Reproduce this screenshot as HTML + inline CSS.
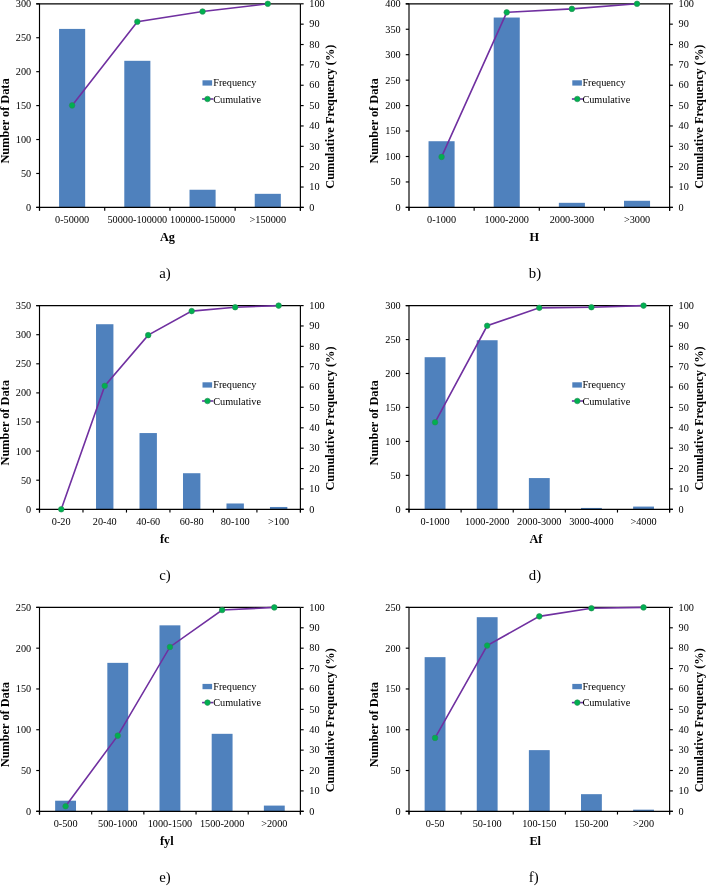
<!DOCTYPE html>
<html><head><meta charset="utf-8"><title>Figure</title>
<style>html,body{margin:0;padding:0;background:#fff;}svg{display:block;font-family:"Liberation Serif", serif;}</style>
</head><body>
<svg width="706" height="886" viewBox="0 0 706 886" font-family='"Liberation Serif", serif' fill="#000">
<rect width="706" height="886" fill="#fff"/>
<rect x="59.07" y="28.91" width="26.09" height="178.49" fill="#4F81BD"/>
<rect x="124.29" y="60.81" width="26.09" height="146.59" fill="#4F81BD"/>
<rect x="189.52" y="189.75" width="26.09" height="17.65" fill="#4F81BD"/>
<rect x="254.74" y="193.83" width="26.09" height="13.57" fill="#4F81BD"/>
<line x1="36.25" y1="3.80" x2="300.40" y2="3.80" stroke="#000" stroke-width="1.15"/>
<line x1="39.50" y1="3.80" x2="39.50" y2="210.65" stroke="#000" stroke-width="1.15"/>
<line x1="300.40" y1="3.80" x2="300.40" y2="210.65" stroke="#000" stroke-width="1.15"/>
<line x1="36.25" y1="207.40" x2="303.65" y2="207.40" stroke="#000" stroke-width="1.15"/>
<line x1="36.25" y1="207.40" x2="39.50" y2="207.40" stroke="#000" stroke-width="1.15"/>
<text x="31.20" y="210.80" font-size="10.25" text-anchor="end">0</text>
<line x1="36.25" y1="173.47" x2="39.50" y2="173.47" stroke="#000" stroke-width="1.15"/>
<text x="31.20" y="176.87" font-size="10.25" text-anchor="end">50</text>
<line x1="36.25" y1="139.53" x2="39.50" y2="139.53" stroke="#000" stroke-width="1.15"/>
<text x="31.20" y="142.93" font-size="10.25" text-anchor="end">100</text>
<line x1="36.25" y1="105.60" x2="39.50" y2="105.60" stroke="#000" stroke-width="1.15"/>
<text x="31.20" y="109.00" font-size="10.25" text-anchor="end">150</text>
<line x1="36.25" y1="71.67" x2="39.50" y2="71.67" stroke="#000" stroke-width="1.15"/>
<text x="31.20" y="75.07" font-size="10.25" text-anchor="end">200</text>
<line x1="36.25" y1="37.73" x2="39.50" y2="37.73" stroke="#000" stroke-width="1.15"/>
<text x="31.20" y="41.13" font-size="10.25" text-anchor="end">250</text>
<line x1="36.25" y1="3.80" x2="39.50" y2="3.80" stroke="#000" stroke-width="1.15"/>
<text x="31.20" y="7.20" font-size="10.25" text-anchor="end">300</text>
<line x1="300.40" y1="207.40" x2="303.65" y2="207.40" stroke="#000" stroke-width="1.15"/>
<text x="309.30" y="210.60" font-size="10.25" text-anchor="start">0</text>
<line x1="300.40" y1="187.04" x2="303.65" y2="187.04" stroke="#000" stroke-width="1.15"/>
<text x="309.30" y="190.24" font-size="10.25" text-anchor="start">10</text>
<line x1="300.40" y1="166.68" x2="303.65" y2="166.68" stroke="#000" stroke-width="1.15"/>
<text x="309.30" y="169.88" font-size="10.25" text-anchor="start">20</text>
<line x1="300.40" y1="146.32" x2="303.65" y2="146.32" stroke="#000" stroke-width="1.15"/>
<text x="309.30" y="149.52" font-size="10.25" text-anchor="start">30</text>
<line x1="300.40" y1="125.96" x2="303.65" y2="125.96" stroke="#000" stroke-width="1.15"/>
<text x="309.30" y="129.16" font-size="10.25" text-anchor="start">40</text>
<line x1="300.40" y1="105.60" x2="303.65" y2="105.60" stroke="#000" stroke-width="1.15"/>
<text x="309.30" y="108.80" font-size="10.25" text-anchor="start">50</text>
<line x1="300.40" y1="85.24" x2="303.65" y2="85.24" stroke="#000" stroke-width="1.15"/>
<text x="309.30" y="88.44" font-size="10.25" text-anchor="start">60</text>
<line x1="300.40" y1="64.88" x2="303.65" y2="64.88" stroke="#000" stroke-width="1.15"/>
<text x="309.30" y="68.08" font-size="10.25" text-anchor="start">70</text>
<line x1="300.40" y1="44.52" x2="303.65" y2="44.52" stroke="#000" stroke-width="1.15"/>
<text x="309.30" y="47.72" font-size="10.25" text-anchor="start">80</text>
<line x1="300.40" y1="24.16" x2="303.65" y2="24.16" stroke="#000" stroke-width="1.15"/>
<text x="309.30" y="27.36" font-size="10.25" text-anchor="start">90</text>
<line x1="300.40" y1="3.80" x2="303.65" y2="3.80" stroke="#000" stroke-width="1.15"/>
<text x="309.30" y="7.00" font-size="10.25" text-anchor="start">100</text>
<line x1="39.50" y1="207.40" x2="39.50" y2="210.65" stroke="#000" stroke-width="1.15"/>
<line x1="104.72" y1="207.40" x2="104.72" y2="210.65" stroke="#000" stroke-width="1.15"/>
<line x1="169.95" y1="207.40" x2="169.95" y2="210.65" stroke="#000" stroke-width="1.15"/>
<line x1="235.17" y1="207.40" x2="235.17" y2="210.65" stroke="#000" stroke-width="1.15"/>
<line x1="300.40" y1="207.40" x2="300.40" y2="210.65" stroke="#000" stroke-width="1.15"/>
<text x="72.11" y="222.90" font-size="10.25" text-anchor="middle">0-50000</text>
<text x="137.34" y="222.90" font-size="10.25" text-anchor="middle">50000-100000</text>
<text x="202.56" y="222.90" font-size="10.25" text-anchor="middle">100000-150000</text>
<text x="267.79" y="222.90" font-size="10.25" text-anchor="middle">&gt;150000</text>
<polyline fill="none" stroke="#7030A0" stroke-width="1.6" points="72.11,105.40 137.34,21.72 202.56,11.54 267.79,3.80"/>
<circle cx="72.11" cy="105.40" r="2.8" fill="#00B050" stroke="#2a8a58" stroke-width="0.6"/>
<circle cx="137.34" cy="21.72" r="2.8" fill="#00B050" stroke="#2a8a58" stroke-width="0.6"/>
<circle cx="202.56" cy="11.54" r="2.8" fill="#00B050" stroke="#2a8a58" stroke-width="0.6"/>
<circle cx="267.79" cy="3.80" r="2.8" fill="#00B050" stroke="#2a8a58" stroke-width="0.6"/>
<text x="159.90" y="240.60" font-size="12.3" text-anchor="start" font-weight="bold">Ag</text>
<text x="8.80" y="121.00" font-size="12.3" text-anchor="middle" font-weight="bold" transform="rotate(-90 8.80 121.00)">Number of Data</text>
<text x="334.10" y="116.70" font-size="12.32" text-anchor="middle" font-weight="bold" transform="rotate(-90 334.10 116.70)">Cumulative Frequency (%)</text>
<text x="159.30" y="278.20" font-size="14.8" text-anchor="start">a)</text>
<rect x="202.50" y="80.30" width="9.6" height="5.3" fill="#4F81BD"/>
<text x="213.20" y="86.30" font-size="10.25" text-anchor="start">Frequency</text>
<line x1="202.10" y1="99.00" x2="213.30" y2="99.00" stroke="#7030A0" stroke-width="1.6"/>
<circle cx="207.50" cy="99.00" r="2.8" fill="#00B050" stroke="#2a8a58" stroke-width="0.6"/>
<text x="213.20" y="102.80" font-size="10.25" text-anchor="start">Cumulative</text>
<rect x="428.54" y="141.23" width="26.06" height="66.17" fill="#4F81BD"/>
<rect x="493.70" y="17.54" width="26.06" height="189.86" fill="#4F81BD"/>
<rect x="558.85" y="202.82" width="26.06" height="4.58" fill="#4F81BD"/>
<rect x="624.00" y="200.78" width="26.06" height="6.62" fill="#4F81BD"/>
<line x1="405.75" y1="3.80" x2="669.60" y2="3.80" stroke="#000" stroke-width="1.15"/>
<line x1="409.00" y1="3.80" x2="409.00" y2="210.65" stroke="#000" stroke-width="1.15"/>
<line x1="669.60" y1="3.80" x2="669.60" y2="210.65" stroke="#000" stroke-width="1.15"/>
<line x1="405.75" y1="207.40" x2="672.85" y2="207.40" stroke="#000" stroke-width="1.15"/>
<line x1="405.75" y1="207.40" x2="409.00" y2="207.40" stroke="#000" stroke-width="1.15"/>
<text x="400.70" y="210.80" font-size="10.25" text-anchor="end">0</text>
<line x1="405.75" y1="181.95" x2="409.00" y2="181.95" stroke="#000" stroke-width="1.15"/>
<text x="400.70" y="185.35" font-size="10.25" text-anchor="end">50</text>
<line x1="405.75" y1="156.50" x2="409.00" y2="156.50" stroke="#000" stroke-width="1.15"/>
<text x="400.70" y="159.90" font-size="10.25" text-anchor="end">100</text>
<line x1="405.75" y1="131.05" x2="409.00" y2="131.05" stroke="#000" stroke-width="1.15"/>
<text x="400.70" y="134.45" font-size="10.25" text-anchor="end">150</text>
<line x1="405.75" y1="105.60" x2="409.00" y2="105.60" stroke="#000" stroke-width="1.15"/>
<text x="400.70" y="109.00" font-size="10.25" text-anchor="end">200</text>
<line x1="405.75" y1="80.15" x2="409.00" y2="80.15" stroke="#000" stroke-width="1.15"/>
<text x="400.70" y="83.55" font-size="10.25" text-anchor="end">250</text>
<line x1="405.75" y1="54.70" x2="409.00" y2="54.70" stroke="#000" stroke-width="1.15"/>
<text x="400.70" y="58.10" font-size="10.25" text-anchor="end">300</text>
<line x1="405.75" y1="29.25" x2="409.00" y2="29.25" stroke="#000" stroke-width="1.15"/>
<text x="400.70" y="32.65" font-size="10.25" text-anchor="end">350</text>
<line x1="405.75" y1="3.80" x2="409.00" y2="3.80" stroke="#000" stroke-width="1.15"/>
<text x="400.70" y="7.20" font-size="10.25" text-anchor="end">400</text>
<line x1="669.60" y1="207.40" x2="672.85" y2="207.40" stroke="#000" stroke-width="1.15"/>
<text x="678.50" y="210.60" font-size="10.25" text-anchor="start">0</text>
<line x1="669.60" y1="187.04" x2="672.85" y2="187.04" stroke="#000" stroke-width="1.15"/>
<text x="678.50" y="190.24" font-size="10.25" text-anchor="start">10</text>
<line x1="669.60" y1="166.68" x2="672.85" y2="166.68" stroke="#000" stroke-width="1.15"/>
<text x="678.50" y="169.88" font-size="10.25" text-anchor="start">20</text>
<line x1="669.60" y1="146.32" x2="672.85" y2="146.32" stroke="#000" stroke-width="1.15"/>
<text x="678.50" y="149.52" font-size="10.25" text-anchor="start">30</text>
<line x1="669.60" y1="125.96" x2="672.85" y2="125.96" stroke="#000" stroke-width="1.15"/>
<text x="678.50" y="129.16" font-size="10.25" text-anchor="start">40</text>
<line x1="669.60" y1="105.60" x2="672.85" y2="105.60" stroke="#000" stroke-width="1.15"/>
<text x="678.50" y="108.80" font-size="10.25" text-anchor="start">50</text>
<line x1="669.60" y1="85.24" x2="672.85" y2="85.24" stroke="#000" stroke-width="1.15"/>
<text x="678.50" y="88.44" font-size="10.25" text-anchor="start">60</text>
<line x1="669.60" y1="64.88" x2="672.85" y2="64.88" stroke="#000" stroke-width="1.15"/>
<text x="678.50" y="68.08" font-size="10.25" text-anchor="start">70</text>
<line x1="669.60" y1="44.52" x2="672.85" y2="44.52" stroke="#000" stroke-width="1.15"/>
<text x="678.50" y="47.72" font-size="10.25" text-anchor="start">80</text>
<line x1="669.60" y1="24.16" x2="672.85" y2="24.16" stroke="#000" stroke-width="1.15"/>
<text x="678.50" y="27.36" font-size="10.25" text-anchor="start">90</text>
<line x1="669.60" y1="3.80" x2="672.85" y2="3.80" stroke="#000" stroke-width="1.15"/>
<text x="678.50" y="7.00" font-size="10.25" text-anchor="start">100</text>
<line x1="409.00" y1="207.40" x2="409.00" y2="210.65" stroke="#000" stroke-width="1.15"/>
<line x1="474.15" y1="207.40" x2="474.15" y2="210.65" stroke="#000" stroke-width="1.15"/>
<line x1="539.30" y1="207.40" x2="539.30" y2="210.65" stroke="#000" stroke-width="1.15"/>
<line x1="604.45" y1="207.40" x2="604.45" y2="210.65" stroke="#000" stroke-width="1.15"/>
<line x1="669.60" y1="207.40" x2="669.60" y2="210.65" stroke="#000" stroke-width="1.15"/>
<text x="441.57" y="222.90" font-size="10.25" text-anchor="middle">0-1000</text>
<text x="506.73" y="222.90" font-size="10.25" text-anchor="middle">1000-2000</text>
<text x="571.88" y="222.90" font-size="10.25" text-anchor="middle">2000-3000</text>
<text x="637.03" y="222.90" font-size="10.25" text-anchor="middle">&gt;3000</text>
<polyline fill="none" stroke="#7030A0" stroke-width="1.6" points="441.57,156.91 506.73,12.35 571.88,8.89 637.03,3.80"/>
<circle cx="441.57" cy="156.91" r="2.8" fill="#00B050" stroke="#2a8a58" stroke-width="0.6"/>
<circle cx="506.73" cy="12.35" r="2.8" fill="#00B050" stroke="#2a8a58" stroke-width="0.6"/>
<circle cx="571.88" cy="8.89" r="2.8" fill="#00B050" stroke="#2a8a58" stroke-width="0.6"/>
<circle cx="637.03" cy="3.80" r="2.8" fill="#00B050" stroke="#2a8a58" stroke-width="0.6"/>
<text x="529.40" y="240.60" font-size="12.3" text-anchor="start" font-weight="bold">H</text>
<text x="378.30" y="121.00" font-size="12.3" text-anchor="middle" font-weight="bold" transform="rotate(-90 378.30 121.00)">Number of Data</text>
<text x="703.30" y="116.70" font-size="12.32" text-anchor="middle" font-weight="bold" transform="rotate(-90 703.30 116.70)">Cumulative Frequency (%)</text>
<text x="528.80" y="278.20" font-size="14.8" text-anchor="start">b)</text>
<rect x="572.30" y="80.30" width="9.6" height="5.3" fill="#4F81BD"/>
<text x="582.40" y="86.30" font-size="10.25" text-anchor="start">Frequency</text>
<line x1="571.90" y1="99.00" x2="583.10" y2="99.00" stroke="#7030A0" stroke-width="1.6"/>
<circle cx="577.30" cy="99.00" r="2.8" fill="#00B050" stroke="#2a8a58" stroke-width="0.6"/>
<text x="582.40" y="102.80" font-size="10.25" text-anchor="start">Cumulative</text>
<rect x="96.03" y="324.22" width="17.39" height="185.08" fill="#4F81BD"/>
<rect x="139.51" y="433.06" width="17.39" height="76.24" fill="#4F81BD"/>
<rect x="182.99" y="473.22" width="17.39" height="36.08" fill="#4F81BD"/>
<rect x="226.48" y="503.48" width="17.39" height="5.82" fill="#4F81BD"/>
<rect x="269.96" y="506.97" width="17.39" height="2.33" fill="#4F81BD"/>
<line x1="36.25" y1="305.60" x2="300.40" y2="305.60" stroke="#000" stroke-width="1.15"/>
<line x1="39.50" y1="305.60" x2="39.50" y2="512.55" stroke="#000" stroke-width="1.15"/>
<line x1="300.40" y1="305.60" x2="300.40" y2="512.55" stroke="#000" stroke-width="1.15"/>
<line x1="36.25" y1="509.30" x2="303.65" y2="509.30" stroke="#000" stroke-width="1.15"/>
<line x1="36.25" y1="509.30" x2="39.50" y2="509.30" stroke="#000" stroke-width="1.15"/>
<text x="31.20" y="512.70" font-size="10.25" text-anchor="end">0</text>
<line x1="36.25" y1="480.20" x2="39.50" y2="480.20" stroke="#000" stroke-width="1.15"/>
<text x="31.20" y="483.60" font-size="10.25" text-anchor="end">50</text>
<line x1="36.25" y1="451.10" x2="39.50" y2="451.10" stroke="#000" stroke-width="1.15"/>
<text x="31.20" y="454.50" font-size="10.25" text-anchor="end">100</text>
<line x1="36.25" y1="422.00" x2="39.50" y2="422.00" stroke="#000" stroke-width="1.15"/>
<text x="31.20" y="425.40" font-size="10.25" text-anchor="end">150</text>
<line x1="36.25" y1="392.90" x2="39.50" y2="392.90" stroke="#000" stroke-width="1.15"/>
<text x="31.20" y="396.30" font-size="10.25" text-anchor="end">200</text>
<line x1="36.25" y1="363.80" x2="39.50" y2="363.80" stroke="#000" stroke-width="1.15"/>
<text x="31.20" y="367.20" font-size="10.25" text-anchor="end">250</text>
<line x1="36.25" y1="334.70" x2="39.50" y2="334.70" stroke="#000" stroke-width="1.15"/>
<text x="31.20" y="338.10" font-size="10.25" text-anchor="end">300</text>
<line x1="36.25" y1="305.60" x2="39.50" y2="305.60" stroke="#000" stroke-width="1.15"/>
<text x="31.20" y="309.00" font-size="10.25" text-anchor="end">350</text>
<line x1="300.40" y1="509.30" x2="303.65" y2="509.30" stroke="#000" stroke-width="1.15"/>
<text x="309.30" y="512.50" font-size="10.25" text-anchor="start">0</text>
<line x1="300.40" y1="488.93" x2="303.65" y2="488.93" stroke="#000" stroke-width="1.15"/>
<text x="309.30" y="492.13" font-size="10.25" text-anchor="start">10</text>
<line x1="300.40" y1="468.56" x2="303.65" y2="468.56" stroke="#000" stroke-width="1.15"/>
<text x="309.30" y="471.76" font-size="10.25" text-anchor="start">20</text>
<line x1="300.40" y1="448.19" x2="303.65" y2="448.19" stroke="#000" stroke-width="1.15"/>
<text x="309.30" y="451.39" font-size="10.25" text-anchor="start">30</text>
<line x1="300.40" y1="427.82" x2="303.65" y2="427.82" stroke="#000" stroke-width="1.15"/>
<text x="309.30" y="431.02" font-size="10.25" text-anchor="start">40</text>
<line x1="300.40" y1="407.45" x2="303.65" y2="407.45" stroke="#000" stroke-width="1.15"/>
<text x="309.30" y="410.65" font-size="10.25" text-anchor="start">50</text>
<line x1="300.40" y1="387.08" x2="303.65" y2="387.08" stroke="#000" stroke-width="1.15"/>
<text x="309.30" y="390.28" font-size="10.25" text-anchor="start">60</text>
<line x1="300.40" y1="366.71" x2="303.65" y2="366.71" stroke="#000" stroke-width="1.15"/>
<text x="309.30" y="369.91" font-size="10.25" text-anchor="start">70</text>
<line x1="300.40" y1="346.34" x2="303.65" y2="346.34" stroke="#000" stroke-width="1.15"/>
<text x="309.30" y="349.54" font-size="10.25" text-anchor="start">80</text>
<line x1="300.40" y1="325.97" x2="303.65" y2="325.97" stroke="#000" stroke-width="1.15"/>
<text x="309.30" y="329.17" font-size="10.25" text-anchor="start">90</text>
<line x1="300.40" y1="305.60" x2="303.65" y2="305.60" stroke="#000" stroke-width="1.15"/>
<text x="309.30" y="308.80" font-size="10.25" text-anchor="start">100</text>
<line x1="39.50" y1="509.30" x2="39.50" y2="512.55" stroke="#000" stroke-width="1.15"/>
<line x1="82.98" y1="509.30" x2="82.98" y2="512.55" stroke="#000" stroke-width="1.15"/>
<line x1="126.47" y1="509.30" x2="126.47" y2="512.55" stroke="#000" stroke-width="1.15"/>
<line x1="169.95" y1="509.30" x2="169.95" y2="512.55" stroke="#000" stroke-width="1.15"/>
<line x1="213.43" y1="509.30" x2="213.43" y2="512.55" stroke="#000" stroke-width="1.15"/>
<line x1="256.92" y1="509.30" x2="256.92" y2="512.55" stroke="#000" stroke-width="1.15"/>
<line x1="300.40" y1="509.30" x2="300.40" y2="512.55" stroke="#000" stroke-width="1.15"/>
<text x="61.24" y="524.80" font-size="10.25" text-anchor="middle">0-20</text>
<text x="104.72" y="524.80" font-size="10.25" text-anchor="middle">20-40</text>
<text x="148.21" y="524.80" font-size="10.25" text-anchor="middle">40-60</text>
<text x="191.69" y="524.80" font-size="10.25" text-anchor="middle">60-80</text>
<text x="235.17" y="524.80" font-size="10.25" text-anchor="middle">80-100</text>
<text x="278.66" y="524.80" font-size="10.25" text-anchor="middle">&gt;100</text>
<polyline fill="none" stroke="#7030A0" stroke-width="1.6" points="61.24,509.30 104.72,385.86 148.21,335.14 191.69,311.10 235.17,307.23 278.66,305.60"/>
<circle cx="61.24" cy="509.30" r="2.8" fill="#00B050" stroke="#2a8a58" stroke-width="0.6"/>
<circle cx="104.72" cy="385.86" r="2.8" fill="#00B050" stroke="#2a8a58" stroke-width="0.6"/>
<circle cx="148.21" cy="335.14" r="2.8" fill="#00B050" stroke="#2a8a58" stroke-width="0.6"/>
<circle cx="191.69" cy="311.10" r="2.8" fill="#00B050" stroke="#2a8a58" stroke-width="0.6"/>
<circle cx="235.17" cy="307.23" r="2.8" fill="#00B050" stroke="#2a8a58" stroke-width="0.6"/>
<circle cx="278.66" cy="305.60" r="2.8" fill="#00B050" stroke="#2a8a58" stroke-width="0.6"/>
<text x="159.90" y="542.50" font-size="12.3" text-anchor="start" font-weight="bold">fc</text>
<text x="8.80" y="422.80" font-size="12.3" text-anchor="middle" font-weight="bold" transform="rotate(-90 8.80 422.80)">Number of Data</text>
<text x="334.10" y="418.50" font-size="12.32" text-anchor="middle" font-weight="bold" transform="rotate(-90 334.10 418.50)">Cumulative Frequency (%)</text>
<text x="159.30" y="580.10" font-size="14.8" text-anchor="start">c)</text>
<rect x="202.50" y="382.30" width="9.6" height="5.3" fill="#4F81BD"/>
<text x="213.20" y="388.30" font-size="10.25" text-anchor="start">Frequency</text>
<line x1="202.10" y1="401.00" x2="213.30" y2="401.00" stroke="#7030A0" stroke-width="1.6"/>
<circle cx="207.50" cy="401.00" r="2.8" fill="#00B050" stroke="#2a8a58" stroke-width="0.6"/>
<text x="213.20" y="404.80" font-size="10.25" text-anchor="start">Cumulative</text>
<rect x="424.64" y="357.20" width="20.85" height="152.10" fill="#4F81BD"/>
<rect x="476.76" y="340.23" width="20.85" height="169.07" fill="#4F81BD"/>
<rect x="528.88" y="478.07" width="20.85" height="31.23" fill="#4F81BD"/>
<rect x="581.00" y="507.94" width="20.85" height="1.36" fill="#4F81BD"/>
<rect x="633.12" y="506.58" width="20.85" height="2.72" fill="#4F81BD"/>
<line x1="405.75" y1="305.60" x2="669.60" y2="305.60" stroke="#000" stroke-width="1.15"/>
<line x1="409.00" y1="305.60" x2="409.00" y2="512.55" stroke="#000" stroke-width="1.15"/>
<line x1="669.60" y1="305.60" x2="669.60" y2="512.55" stroke="#000" stroke-width="1.15"/>
<line x1="405.75" y1="509.30" x2="672.85" y2="509.30" stroke="#000" stroke-width="1.15"/>
<line x1="405.75" y1="509.30" x2="409.00" y2="509.30" stroke="#000" stroke-width="1.15"/>
<text x="400.70" y="512.70" font-size="10.25" text-anchor="end">0</text>
<line x1="405.75" y1="475.35" x2="409.00" y2="475.35" stroke="#000" stroke-width="1.15"/>
<text x="400.70" y="478.75" font-size="10.25" text-anchor="end">50</text>
<line x1="405.75" y1="441.40" x2="409.00" y2="441.40" stroke="#000" stroke-width="1.15"/>
<text x="400.70" y="444.80" font-size="10.25" text-anchor="end">100</text>
<line x1="405.75" y1="407.45" x2="409.00" y2="407.45" stroke="#000" stroke-width="1.15"/>
<text x="400.70" y="410.85" font-size="10.25" text-anchor="end">150</text>
<line x1="405.75" y1="373.50" x2="409.00" y2="373.50" stroke="#000" stroke-width="1.15"/>
<text x="400.70" y="376.90" font-size="10.25" text-anchor="end">200</text>
<line x1="405.75" y1="339.55" x2="409.00" y2="339.55" stroke="#000" stroke-width="1.15"/>
<text x="400.70" y="342.95" font-size="10.25" text-anchor="end">250</text>
<line x1="405.75" y1="305.60" x2="409.00" y2="305.60" stroke="#000" stroke-width="1.15"/>
<text x="400.70" y="309.00" font-size="10.25" text-anchor="end">300</text>
<line x1="669.60" y1="509.30" x2="672.85" y2="509.30" stroke="#000" stroke-width="1.15"/>
<text x="678.50" y="512.50" font-size="10.25" text-anchor="start">0</text>
<line x1="669.60" y1="488.93" x2="672.85" y2="488.93" stroke="#000" stroke-width="1.15"/>
<text x="678.50" y="492.13" font-size="10.25" text-anchor="start">10</text>
<line x1="669.60" y1="468.56" x2="672.85" y2="468.56" stroke="#000" stroke-width="1.15"/>
<text x="678.50" y="471.76" font-size="10.25" text-anchor="start">20</text>
<line x1="669.60" y1="448.19" x2="672.85" y2="448.19" stroke="#000" stroke-width="1.15"/>
<text x="678.50" y="451.39" font-size="10.25" text-anchor="start">30</text>
<line x1="669.60" y1="427.82" x2="672.85" y2="427.82" stroke="#000" stroke-width="1.15"/>
<text x="678.50" y="431.02" font-size="10.25" text-anchor="start">40</text>
<line x1="669.60" y1="407.45" x2="672.85" y2="407.45" stroke="#000" stroke-width="1.15"/>
<text x="678.50" y="410.65" font-size="10.25" text-anchor="start">50</text>
<line x1="669.60" y1="387.08" x2="672.85" y2="387.08" stroke="#000" stroke-width="1.15"/>
<text x="678.50" y="390.28" font-size="10.25" text-anchor="start">60</text>
<line x1="669.60" y1="366.71" x2="672.85" y2="366.71" stroke="#000" stroke-width="1.15"/>
<text x="678.50" y="369.91" font-size="10.25" text-anchor="start">70</text>
<line x1="669.60" y1="346.34" x2="672.85" y2="346.34" stroke="#000" stroke-width="1.15"/>
<text x="678.50" y="349.54" font-size="10.25" text-anchor="start">80</text>
<line x1="669.60" y1="325.97" x2="672.85" y2="325.97" stroke="#000" stroke-width="1.15"/>
<text x="678.50" y="329.17" font-size="10.25" text-anchor="start">90</text>
<line x1="669.60" y1="305.60" x2="672.85" y2="305.60" stroke="#000" stroke-width="1.15"/>
<text x="678.50" y="308.80" font-size="10.25" text-anchor="start">100</text>
<line x1="409.00" y1="509.30" x2="409.00" y2="512.55" stroke="#000" stroke-width="1.15"/>
<line x1="461.12" y1="509.30" x2="461.12" y2="512.55" stroke="#000" stroke-width="1.15"/>
<line x1="513.24" y1="509.30" x2="513.24" y2="512.55" stroke="#000" stroke-width="1.15"/>
<line x1="565.36" y1="509.30" x2="565.36" y2="512.55" stroke="#000" stroke-width="1.15"/>
<line x1="617.48" y1="509.30" x2="617.48" y2="512.55" stroke="#000" stroke-width="1.15"/>
<line x1="669.60" y1="509.30" x2="669.60" y2="512.55" stroke="#000" stroke-width="1.15"/>
<text x="435.06" y="524.80" font-size="10.25" text-anchor="middle">0-1000</text>
<text x="487.18" y="524.80" font-size="10.25" text-anchor="middle">1000-2000</text>
<text x="539.30" y="524.80" font-size="10.25" text-anchor="middle">2000-3000</text>
<text x="591.42" y="524.80" font-size="10.25" text-anchor="middle">3000-4000</text>
<text x="643.54" y="524.80" font-size="10.25" text-anchor="middle">&gt;4000</text>
<polyline fill="none" stroke="#7030A0" stroke-width="1.6" points="435.06,422.32 487.18,325.77 539.30,307.84 591.42,307.23 643.54,305.60"/>
<circle cx="435.06" cy="422.32" r="2.8" fill="#00B050" stroke="#2a8a58" stroke-width="0.6"/>
<circle cx="487.18" cy="325.77" r="2.8" fill="#00B050" stroke="#2a8a58" stroke-width="0.6"/>
<circle cx="539.30" cy="307.84" r="2.8" fill="#00B050" stroke="#2a8a58" stroke-width="0.6"/>
<circle cx="591.42" cy="307.23" r="2.8" fill="#00B050" stroke="#2a8a58" stroke-width="0.6"/>
<circle cx="643.54" cy="305.60" r="2.8" fill="#00B050" stroke="#2a8a58" stroke-width="0.6"/>
<text x="529.40" y="542.50" font-size="12.3" text-anchor="start" font-weight="bold">Af</text>
<text x="378.30" y="422.80" font-size="12.3" text-anchor="middle" font-weight="bold" transform="rotate(-90 378.30 422.80)">Number of Data</text>
<text x="703.30" y="418.50" font-size="12.32" text-anchor="middle" font-weight="bold" transform="rotate(-90 703.30 418.50)">Cumulative Frequency (%)</text>
<text x="528.80" y="580.10" font-size="14.8" text-anchor="start">d)</text>
<rect x="572.30" y="382.30" width="9.6" height="5.3" fill="#4F81BD"/>
<text x="582.40" y="388.30" font-size="10.25" text-anchor="start">Frequency</text>
<line x1="571.90" y1="401.00" x2="583.10" y2="401.00" stroke="#7030A0" stroke-width="1.6"/>
<circle cx="577.30" cy="401.00" r="2.8" fill="#00B050" stroke="#2a8a58" stroke-width="0.6"/>
<text x="582.40" y="404.80" font-size="10.25" text-anchor="start">Cumulative</text>
<rect x="55.15" y="800.70" width="20.87" height="10.60" fill="#4F81BD"/>
<rect x="107.33" y="662.86" width="20.87" height="148.44" fill="#4F81BD"/>
<rect x="159.51" y="625.34" width="20.87" height="185.96" fill="#4F81BD"/>
<rect x="211.69" y="733.82" width="20.87" height="77.48" fill="#4F81BD"/>
<rect x="263.87" y="805.59" width="20.87" height="5.71" fill="#4F81BD"/>
<line x1="36.25" y1="607.40" x2="300.40" y2="607.40" stroke="#000" stroke-width="1.15"/>
<line x1="39.50" y1="607.40" x2="39.50" y2="814.55" stroke="#000" stroke-width="1.15"/>
<line x1="300.40" y1="607.40" x2="300.40" y2="814.55" stroke="#000" stroke-width="1.15"/>
<line x1="36.25" y1="811.30" x2="303.65" y2="811.30" stroke="#000" stroke-width="1.15"/>
<line x1="36.25" y1="811.30" x2="39.50" y2="811.30" stroke="#000" stroke-width="1.15"/>
<text x="31.20" y="814.70" font-size="10.25" text-anchor="end">0</text>
<line x1="36.25" y1="770.52" x2="39.50" y2="770.52" stroke="#000" stroke-width="1.15"/>
<text x="31.20" y="773.92" font-size="10.25" text-anchor="end">50</text>
<line x1="36.25" y1="729.74" x2="39.50" y2="729.74" stroke="#000" stroke-width="1.15"/>
<text x="31.20" y="733.14" font-size="10.25" text-anchor="end">100</text>
<line x1="36.25" y1="688.96" x2="39.50" y2="688.96" stroke="#000" stroke-width="1.15"/>
<text x="31.20" y="692.36" font-size="10.25" text-anchor="end">150</text>
<line x1="36.25" y1="648.18" x2="39.50" y2="648.18" stroke="#000" stroke-width="1.15"/>
<text x="31.20" y="651.58" font-size="10.25" text-anchor="end">200</text>
<line x1="36.25" y1="607.40" x2="39.50" y2="607.40" stroke="#000" stroke-width="1.15"/>
<text x="31.20" y="610.80" font-size="10.25" text-anchor="end">250</text>
<line x1="300.40" y1="811.30" x2="303.65" y2="811.30" stroke="#000" stroke-width="1.15"/>
<text x="309.30" y="814.50" font-size="10.25" text-anchor="start">0</text>
<line x1="300.40" y1="790.91" x2="303.65" y2="790.91" stroke="#000" stroke-width="1.15"/>
<text x="309.30" y="794.11" font-size="10.25" text-anchor="start">10</text>
<line x1="300.40" y1="770.52" x2="303.65" y2="770.52" stroke="#000" stroke-width="1.15"/>
<text x="309.30" y="773.72" font-size="10.25" text-anchor="start">20</text>
<line x1="300.40" y1="750.13" x2="303.65" y2="750.13" stroke="#000" stroke-width="1.15"/>
<text x="309.30" y="753.33" font-size="10.25" text-anchor="start">30</text>
<line x1="300.40" y1="729.74" x2="303.65" y2="729.74" stroke="#000" stroke-width="1.15"/>
<text x="309.30" y="732.94" font-size="10.25" text-anchor="start">40</text>
<line x1="300.40" y1="709.35" x2="303.65" y2="709.35" stroke="#000" stroke-width="1.15"/>
<text x="309.30" y="712.55" font-size="10.25" text-anchor="start">50</text>
<line x1="300.40" y1="688.96" x2="303.65" y2="688.96" stroke="#000" stroke-width="1.15"/>
<text x="309.30" y="692.16" font-size="10.25" text-anchor="start">60</text>
<line x1="300.40" y1="668.57" x2="303.65" y2="668.57" stroke="#000" stroke-width="1.15"/>
<text x="309.30" y="671.77" font-size="10.25" text-anchor="start">70</text>
<line x1="300.40" y1="648.18" x2="303.65" y2="648.18" stroke="#000" stroke-width="1.15"/>
<text x="309.30" y="651.38" font-size="10.25" text-anchor="start">80</text>
<line x1="300.40" y1="627.79" x2="303.65" y2="627.79" stroke="#000" stroke-width="1.15"/>
<text x="309.30" y="630.99" font-size="10.25" text-anchor="start">90</text>
<line x1="300.40" y1="607.40" x2="303.65" y2="607.40" stroke="#000" stroke-width="1.15"/>
<text x="309.30" y="610.60" font-size="10.25" text-anchor="start">100</text>
<line x1="39.50" y1="811.30" x2="39.50" y2="814.55" stroke="#000" stroke-width="1.15"/>
<line x1="91.68" y1="811.30" x2="91.68" y2="814.55" stroke="#000" stroke-width="1.15"/>
<line x1="143.86" y1="811.30" x2="143.86" y2="814.55" stroke="#000" stroke-width="1.15"/>
<line x1="196.04" y1="811.30" x2="196.04" y2="814.55" stroke="#000" stroke-width="1.15"/>
<line x1="248.22" y1="811.30" x2="248.22" y2="814.55" stroke="#000" stroke-width="1.15"/>
<line x1="300.40" y1="811.30" x2="300.40" y2="814.55" stroke="#000" stroke-width="1.15"/>
<text x="65.59" y="826.80" font-size="10.25" text-anchor="middle">0-500</text>
<text x="117.77" y="826.80" font-size="10.25" text-anchor="middle">500-1000</text>
<text x="169.95" y="826.80" font-size="10.25" text-anchor="middle">1000-1500</text>
<text x="222.13" y="826.80" font-size="10.25" text-anchor="middle">1500-2000</text>
<text x="274.31" y="826.80" font-size="10.25" text-anchor="middle">&gt;2000</text>
<polyline fill="none" stroke="#7030A0" stroke-width="1.6" points="65.59,806.20 117.77,735.65 169.95,646.96 222.13,610.05 274.31,607.40"/>
<circle cx="65.59" cy="806.20" r="2.8" fill="#00B050" stroke="#2a8a58" stroke-width="0.6"/>
<circle cx="117.77" cy="735.65" r="2.8" fill="#00B050" stroke="#2a8a58" stroke-width="0.6"/>
<circle cx="169.95" cy="646.96" r="2.8" fill="#00B050" stroke="#2a8a58" stroke-width="0.6"/>
<circle cx="222.13" cy="610.05" r="2.8" fill="#00B050" stroke="#2a8a58" stroke-width="0.6"/>
<circle cx="274.31" cy="607.40" r="2.8" fill="#00B050" stroke="#2a8a58" stroke-width="0.6"/>
<text x="159.90" y="844.50" font-size="12.3" text-anchor="start" font-weight="bold">fyl</text>
<text x="8.80" y="724.60" font-size="12.3" text-anchor="middle" font-weight="bold" transform="rotate(-90 8.80 724.60)">Number of Data</text>
<text x="334.10" y="720.30" font-size="12.32" text-anchor="middle" font-weight="bold" transform="rotate(-90 334.10 720.30)">Cumulative Frequency (%)</text>
<text x="159.30" y="882.10" font-size="14.8" text-anchor="start">e)</text>
<rect x="202.50" y="683.90" width="9.6" height="5.3" fill="#4F81BD"/>
<text x="213.20" y="689.90" font-size="10.25" text-anchor="start">Frequency</text>
<line x1="202.10" y1="702.60" x2="213.30" y2="702.60" stroke="#7030A0" stroke-width="1.6"/>
<circle cx="207.50" cy="702.60" r="2.8" fill="#00B050" stroke="#2a8a58" stroke-width="0.6"/>
<text x="213.20" y="706.40" font-size="10.25" text-anchor="start">Cumulative</text>
<rect x="424.64" y="657.15" width="20.85" height="154.15" fill="#4F81BD"/>
<rect x="476.76" y="617.19" width="20.85" height="194.11" fill="#4F81BD"/>
<rect x="528.88" y="750.13" width="20.85" height="61.17" fill="#4F81BD"/>
<rect x="581.00" y="794.17" width="20.85" height="17.13" fill="#4F81BD"/>
<rect x="633.12" y="809.67" width="20.85" height="1.63" fill="#4F81BD"/>
<line x1="405.75" y1="607.40" x2="669.60" y2="607.40" stroke="#000" stroke-width="1.15"/>
<line x1="409.00" y1="607.40" x2="409.00" y2="814.55" stroke="#000" stroke-width="1.15"/>
<line x1="669.60" y1="607.40" x2="669.60" y2="814.55" stroke="#000" stroke-width="1.15"/>
<line x1="405.75" y1="811.30" x2="672.85" y2="811.30" stroke="#000" stroke-width="1.15"/>
<line x1="405.75" y1="811.30" x2="409.00" y2="811.30" stroke="#000" stroke-width="1.15"/>
<text x="400.70" y="814.70" font-size="10.25" text-anchor="end">0</text>
<line x1="405.75" y1="770.52" x2="409.00" y2="770.52" stroke="#000" stroke-width="1.15"/>
<text x="400.70" y="773.92" font-size="10.25" text-anchor="end">50</text>
<line x1="405.75" y1="729.74" x2="409.00" y2="729.74" stroke="#000" stroke-width="1.15"/>
<text x="400.70" y="733.14" font-size="10.25" text-anchor="end">100</text>
<line x1="405.75" y1="688.96" x2="409.00" y2="688.96" stroke="#000" stroke-width="1.15"/>
<text x="400.70" y="692.36" font-size="10.25" text-anchor="end">150</text>
<line x1="405.75" y1="648.18" x2="409.00" y2="648.18" stroke="#000" stroke-width="1.15"/>
<text x="400.70" y="651.58" font-size="10.25" text-anchor="end">200</text>
<line x1="405.75" y1="607.40" x2="409.00" y2="607.40" stroke="#000" stroke-width="1.15"/>
<text x="400.70" y="610.80" font-size="10.25" text-anchor="end">250</text>
<line x1="669.60" y1="811.30" x2="672.85" y2="811.30" stroke="#000" stroke-width="1.15"/>
<text x="678.50" y="814.50" font-size="10.25" text-anchor="start">0</text>
<line x1="669.60" y1="790.91" x2="672.85" y2="790.91" stroke="#000" stroke-width="1.15"/>
<text x="678.50" y="794.11" font-size="10.25" text-anchor="start">10</text>
<line x1="669.60" y1="770.52" x2="672.85" y2="770.52" stroke="#000" stroke-width="1.15"/>
<text x="678.50" y="773.72" font-size="10.25" text-anchor="start">20</text>
<line x1="669.60" y1="750.13" x2="672.85" y2="750.13" stroke="#000" stroke-width="1.15"/>
<text x="678.50" y="753.33" font-size="10.25" text-anchor="start">30</text>
<line x1="669.60" y1="729.74" x2="672.85" y2="729.74" stroke="#000" stroke-width="1.15"/>
<text x="678.50" y="732.94" font-size="10.25" text-anchor="start">40</text>
<line x1="669.60" y1="709.35" x2="672.85" y2="709.35" stroke="#000" stroke-width="1.15"/>
<text x="678.50" y="712.55" font-size="10.25" text-anchor="start">50</text>
<line x1="669.60" y1="688.96" x2="672.85" y2="688.96" stroke="#000" stroke-width="1.15"/>
<text x="678.50" y="692.16" font-size="10.25" text-anchor="start">60</text>
<line x1="669.60" y1="668.57" x2="672.85" y2="668.57" stroke="#000" stroke-width="1.15"/>
<text x="678.50" y="671.77" font-size="10.25" text-anchor="start">70</text>
<line x1="669.60" y1="648.18" x2="672.85" y2="648.18" stroke="#000" stroke-width="1.15"/>
<text x="678.50" y="651.38" font-size="10.25" text-anchor="start">80</text>
<line x1="669.60" y1="627.79" x2="672.85" y2="627.79" stroke="#000" stroke-width="1.15"/>
<text x="678.50" y="630.99" font-size="10.25" text-anchor="start">90</text>
<line x1="669.60" y1="607.40" x2="672.85" y2="607.40" stroke="#000" stroke-width="1.15"/>
<text x="678.50" y="610.60" font-size="10.25" text-anchor="start">100</text>
<line x1="409.00" y1="811.30" x2="409.00" y2="814.55" stroke="#000" stroke-width="1.15"/>
<line x1="461.12" y1="811.30" x2="461.12" y2="814.55" stroke="#000" stroke-width="1.15"/>
<line x1="513.24" y1="811.30" x2="513.24" y2="814.55" stroke="#000" stroke-width="1.15"/>
<line x1="565.36" y1="811.30" x2="565.36" y2="814.55" stroke="#000" stroke-width="1.15"/>
<line x1="617.48" y1="811.30" x2="617.48" y2="814.55" stroke="#000" stroke-width="1.15"/>
<line x1="669.60" y1="811.30" x2="669.60" y2="814.55" stroke="#000" stroke-width="1.15"/>
<text x="435.06" y="826.80" font-size="10.25" text-anchor="middle">0-50</text>
<text x="487.18" y="826.80" font-size="10.25" text-anchor="middle">50-100</text>
<text x="539.30" y="826.80" font-size="10.25" text-anchor="middle">100-150</text>
<text x="591.42" y="826.80" font-size="10.25" text-anchor="middle">150-200</text>
<text x="643.54" y="826.80" font-size="10.25" text-anchor="middle">&gt;200</text>
<polyline fill="none" stroke="#7030A0" stroke-width="1.6" points="435.06,737.90 487.18,645.53 539.30,616.37 591.42,608.22 643.54,607.40"/>
<circle cx="435.06" cy="737.90" r="2.8" fill="#00B050" stroke="#2a8a58" stroke-width="0.6"/>
<circle cx="487.18" cy="645.53" r="2.8" fill="#00B050" stroke="#2a8a58" stroke-width="0.6"/>
<circle cx="539.30" cy="616.37" r="2.8" fill="#00B050" stroke="#2a8a58" stroke-width="0.6"/>
<circle cx="591.42" cy="608.22" r="2.8" fill="#00B050" stroke="#2a8a58" stroke-width="0.6"/>
<circle cx="643.54" cy="607.40" r="2.8" fill="#00B050" stroke="#2a8a58" stroke-width="0.6"/>
<text x="529.40" y="844.50" font-size="12.3" text-anchor="start" font-weight="bold">El</text>
<text x="378.30" y="724.60" font-size="12.3" text-anchor="middle" font-weight="bold" transform="rotate(-90 378.30 724.60)">Number of Data</text>
<text x="703.30" y="720.30" font-size="12.32" text-anchor="middle" font-weight="bold" transform="rotate(-90 703.30 720.30)">Cumulative Frequency (%)</text>
<text x="528.80" y="882.10" font-size="14.8" text-anchor="start">f)</text>
<rect x="572.30" y="683.90" width="9.6" height="5.3" fill="#4F81BD"/>
<text x="582.40" y="689.90" font-size="10.25" text-anchor="start">Frequency</text>
<line x1="571.90" y1="702.60" x2="583.10" y2="702.60" stroke="#7030A0" stroke-width="1.6"/>
<circle cx="577.30" cy="702.60" r="2.8" fill="#00B050" stroke="#2a8a58" stroke-width="0.6"/>
<text x="582.40" y="706.40" font-size="10.25" text-anchor="start">Cumulative</text>
</svg>
</body></html>
